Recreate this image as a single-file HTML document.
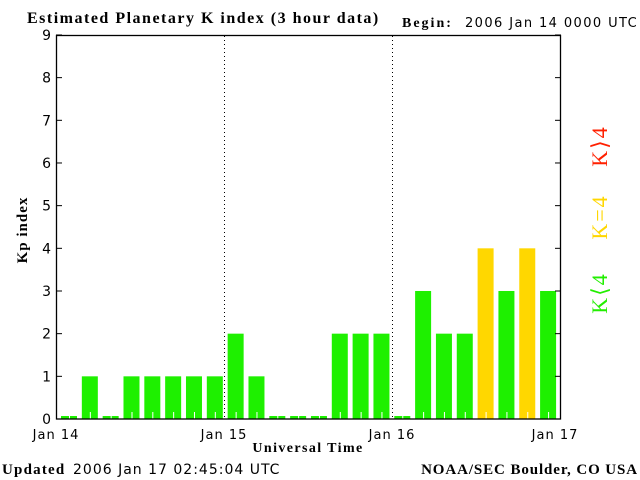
<!DOCTYPE html>
<html><head><meta charset="utf-8"><style>
html,body{margin:0;padding:0;background:#fff;}
svg{display:block;}
.s{font-family:"DejaVu Sans","Liberation Sans",sans-serif;}
.b{font-family:"Liberation Serif",serif;font-weight:bold;}
</style></head><body>
<svg width="640" height="480" xmlns="http://www.w3.org/2000/svg">
<text x="27" y="23" class="b" font-size="16" letter-spacing="1.5">Estimated Planetary K index (3 hour data)</text>
<text x="402" y="27" class="b" font-size="14" letter-spacing="2">Begin:</text>
<text x="465" y="27" class="s" font-size="13" letter-spacing="1.4">2006 Jan 14 0000 UTC</text>
<g id="bars"></g>
<rect x="56.5" y="35.5" width="504" height="383.5" fill="none" stroke="#000" stroke-width="1.3"/>
<line x1="224.5" y1="36" x2="224.5" y2="418" stroke="#000" stroke-dasharray="1,3"/>
<line x1="392.5" y1="36" x2="392.5" y2="418" stroke="#000" stroke-dasharray="1,3"/>
<g id="ticks" stroke="#000"></g>
<g class="s" font-size="14" text-anchor="end" id="ylab"></g>
<g class="s" font-size="13" text-anchor="middle" letter-spacing="1">
<text x="56" y="439">Jan 14</text><text x="224" y="439">Jan 15</text><text x="392" y="439">Jan 16</text><text x="555" y="439">Jan 17</text>
</g>
<text x="308" y="452" class="b" font-size="14" text-anchor="middle" letter-spacing="1.4">Universal Time</text>
<text transform="translate(27,230) rotate(-90)" class="b" font-size="15" text-anchor="middle" letter-spacing="1">Kp index</text>
<text x="2" y="474" class="b" font-size="15" letter-spacing="1.2">Updated</text>
<text x="73" y="474" class="s" font-size="14" letter-spacing="1">2006 Jan 17 02:45:04 UTC</text>
<text x="638" y="474" class="b" font-size="15" text-anchor="end" letter-spacing="0.9">NOAA/SEC Boulder, CO USA</text>
<g font-family="Liberation Serif,serif" font-size="22" text-anchor="middle" letter-spacing="2">
<text transform="translate(607,146) rotate(-90)" fill="#ff2000">K⟩4</text>
<text transform="translate(607,217) rotate(-90)" fill="#ffd700">K=4</text>
<text transform="translate(607,293) rotate(-90)" fill="#22ee00">K⟨4</text>
</g>
</svg>
<script>
var v=[0,1,0,1,1,1,1,1,2,1,0,0,0,2,2,2,0,3,2,2,4,3,4,3];
var g=document.getElementById("bars"),s="";
v.forEach(function(k,i){var x=61+20.83*i;var h=k==0?3:42.67*k;var c=k>=4?"#ffd700":"#1ef000";
s+='<rect x="'+x+'" y="'+(419-h)+'" width="16" height="'+h+'" fill="'+c+'"/>';
s+='<line x1="'+(x+8.5)+'" y1="412" x2="'+(x+8.5)+'" y2="419" stroke="#fff"/>';});
g.innerHTML=s;
var t="",l="";
for(var k=0;k<=9;k++){var y=419-42.67*k;t+='<line x1="56" y1="'+y+'" x2="62" y2="'+y+'"/><line x1="555" y1="'+y+'" x2="561" y2="'+y+'"/>';
l+='<text x="51" y="'+(y+5)+'">'+k+'</text>';}
document.getElementById("ticks").innerHTML=t;document.getElementById("ylab").innerHTML=l;
</script>
</body></html>
